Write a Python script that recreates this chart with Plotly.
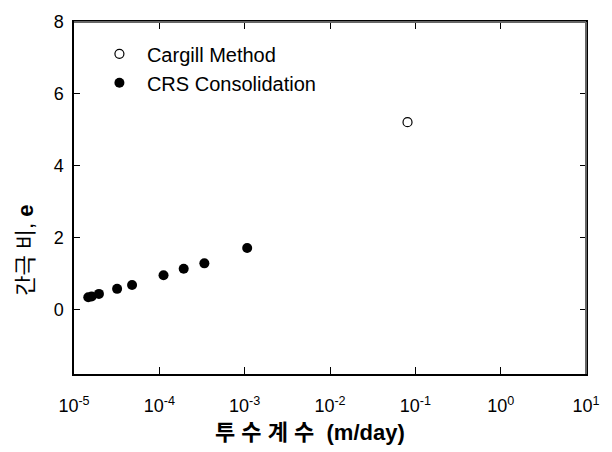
import plotly.graph_objects as go

# Data
cargill_k = [0.081]
cargill_e = [5.21]

crs_k = [1.47e-5, 1.61e-5, 1.96e-5, 3.2e-5, 4.79e-5, 1.12e-4, 1.93e-4, 3.37e-4, 1.07e-3]
crs_e = [0.335, 0.36, 0.43, 0.57, 0.68, 0.95, 1.13, 1.28, 1.71]

x_tickvals = [1e-5, 1e-4, 1e-3, 1e-2, 1e-1, 1e0, 1e1]
x_ticktext = ["10<sup>-5</sup>", "10<sup>-4</sup>", "10<sup>-3</sup>", "10<sup>-2</sup>",
              "10<sup>-1</sup>", "10<sup>0</sup>", "10<sup>1</sup>"]
x_minor = [m * d for d in [1e-5, 1e-4, 1e-3, 1e-2, 1e-1, 1e0] for m in range(2, 10)]
y_tickvals = [0, 2, 4, 6, 8]

x_title = "<b>투 수 계 수  (m/day)</b>"
y_title = "간극 비, <b>e</b>"

FONT = "Liberation Sans, Arial, Noto Sans CJK KR, sans-serif"

fig = go.Figure()
fig.add_trace(go.Scatter(
    x=cargill_k, y=cargill_e, mode="markers", name="Cargill Method",
    marker=dict(symbol="circle-open", size=9, color="black", line=dict(width=1.2, color="black")),
))
fig.add_trace(go.Scatter(
    x=crs_k, y=crs_e, mode="markers", name="CRS Consolidation",
    marker=dict(symbol="circle", size=10, color="black"),
))

fig.update_layout(
    width=612, height=452,
    margin=dict(l=74, r=23.5, t=14.3, b=77.7),
    paper_bgcolor="white", plot_bgcolor="white",
    font=dict(family=FONT, size=18, color="black"),
    showlegend=True,
    legend=dict(x=0.035, y=0.965, xanchor="left", yanchor="top",
                bgcolor="rgba(0,0,0,0)", font=dict(size=20), itemwidth=45,
                tracegroupgap=0),
    xaxis=dict(
        type="log", range=[-5, 1], tickvals=x_tickvals, ticktext=x_ticktext,
        showgrid=False, zeroline=False,
        showline=True, linecolor="black", linewidth=1.5, mirror="ticks",
        ticks="inside", ticklen=7, tickwidth=1.3, tickcolor="black",
        tickfont=dict(size=18), ticklabelstandoff=15,
    ),
    xaxis2=dict(
        type="log", range=[-5, 1], overlaying="x", side="bottom", anchor="y",
        tickvals=x_minor, showticklabels=False,
        showgrid=False, zeroline=False, showline=False, mirror="ticks",
        ticks="inside", ticklen=4, tickwidth=1.3, tickcolor="black",
    ),
    yaxis=dict(
        range=[-1.8, 8], tickvals=y_tickvals,
        showgrid=False, zeroline=False,
        showline=True, linecolor="black", linewidth=1.5, mirror="ticks",
        ticks="inside", ticklen=6, tickwidth=1.3, tickcolor="black",
        tickfont=dict(size=18), ticklabelstandoff=5,
    ),
    shapes=[
        dict(type="line", xref="paper", yref="paper", x0=0, x1=1, y0=1, y1=1,
             line=dict(color="#666", width=2)),
        dict(type="line", xref="paper", yref="paper", x0=1, x1=1, y0=0, y1=1,
             line=dict(color="#666", width=2)),
    ],
    annotations=[
        dict(text=x_title, xref="paper", yref="paper", x=0.4616, y=-0.166,
             xanchor="center", yanchor="middle", showarrow=False, font=dict(size=22)),
        dict(text=y_title, xref="paper", yref="paper", x=-0.095, y=0.351,
             xanchor="center", yanchor="middle", textangle=-90, showarrow=False,
             font=dict(size=22)),
    ],
)

fig.write_html("out.html")
